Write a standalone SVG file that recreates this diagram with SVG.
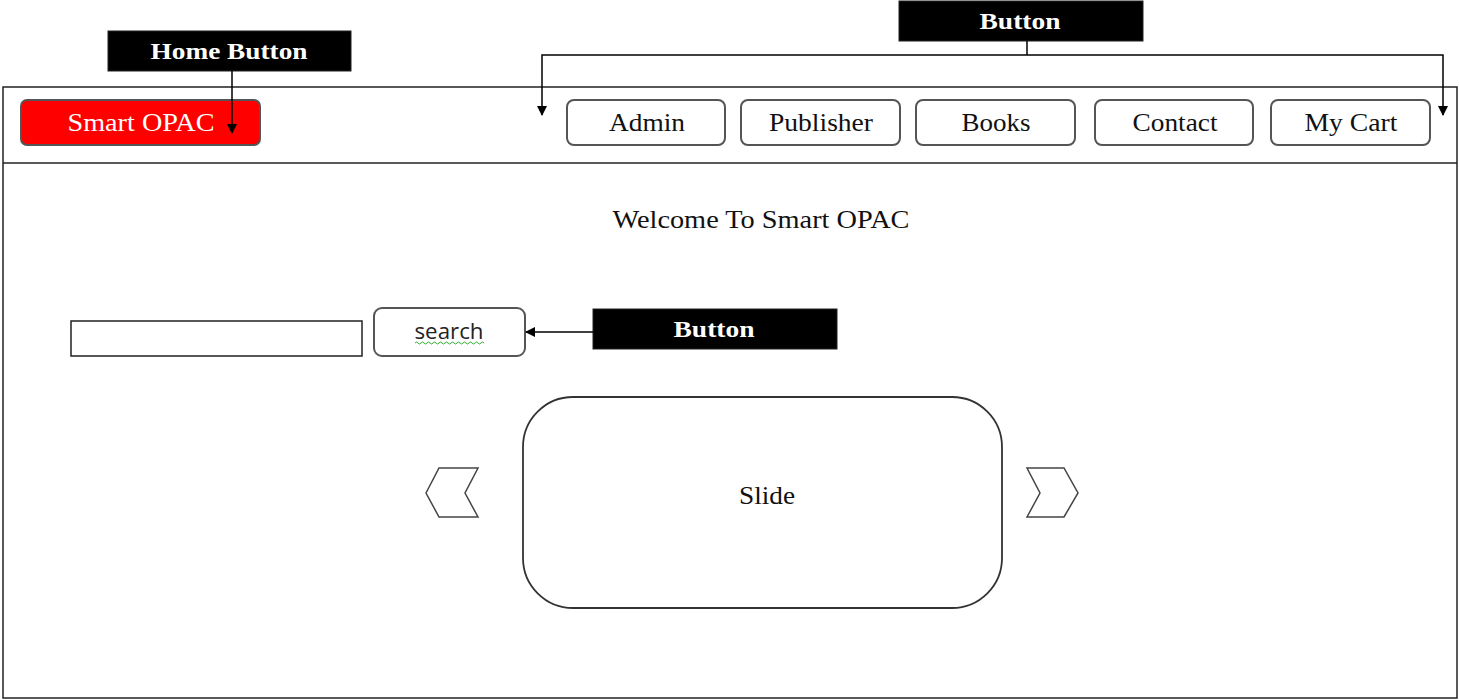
<svg xmlns="http://www.w3.org/2000/svg" width="1459" height="700" viewBox="0 0 1459 700">
<defs>
<style>
.frame{fill:#fff;stroke:#222;stroke-width:1.5}
.btn{fill:#fff;stroke:#555;stroke-width:2}
.lbl{fill:#000;stroke:#222;stroke-width:1}
.lt{font-family:"Liberation Serif","Times New Roman",serif;font-weight:bold;font-size:24px;fill:#fff;text-anchor:middle}
.bt{font-family:"Liberation Serif","Times New Roman",serif;font-size:25px;fill:#111;text-anchor:middle}
.con{fill:none;stroke:#000;stroke-width:1.5}
</style>
<marker id="ah" markerWidth="10" markerHeight="10" viewBox="0 0 10 10" refX="9" refY="5" orient="auto" markerUnits="userSpaceOnUse">
<path d="M0,0 L10,5 L0,10 z" fill="#000"/>
</marker>
</defs>
<rect width="1459" height="700" fill="#fff"/>
<g id="frame">
<rect class="frame" x="3" y="87" width="1454" height="611"/>
<line x1="3" y1="163" x2="1457" y2="163" stroke="#222" stroke-width="1.5"/>
</g>
<g id="home-button">
<rect x="21" y="100" width="239" height="45" rx="6" fill="#f00" stroke="#555" stroke-width="2"/>
<text x="141" y="131" font-family="Liberation Serif,serif" font-size="25" fill="#fff" text-anchor="middle" textLength="147" lengthAdjust="spacingAndGlyphs">Smart OPAC</text>
</g>
<g id="nav-admin"><rect class="btn" x="567" y="100" width="158" height="45" rx="7"/><text class="bt" x="647" y="131" textLength="76" lengthAdjust="spacingAndGlyphs">Admin</text></g>
<g id="nav-publisher"><rect class="btn" x="741" y="100" width="159" height="45" rx="7"/><text class="bt" x="821" y="131" textLength="104" lengthAdjust="spacingAndGlyphs">Publisher</text></g>
<g id="nav-books"><rect class="btn" x="916" y="100" width="159" height="45" rx="7"/><text class="bt" x="996" y="131" textLength="69" lengthAdjust="spacingAndGlyphs">Books</text></g>
<g id="nav-contact"><rect class="btn" x="1095" y="100" width="158" height="45" rx="7"/><text class="bt" x="1175" y="131" textLength="85" lengthAdjust="spacingAndGlyphs">Contact</text></g>
<g id="nav-mycart"><rect class="btn" x="1271" y="100" width="159" height="45" rx="7"/><text class="bt" x="1351" y="131" textLength="93" lengthAdjust="spacingAndGlyphs">My Cart</text></g>
<g id="welcome"><text class="bt" x="761" y="228" textLength="297" lengthAdjust="spacingAndGlyphs">Welcome To Smart OPAC</text></g>
<g id="search-input"><rect x="71" y="321" width="291" height="35" fill="#fff" stroke="#222" stroke-width="1.5"/></g>
<g id="search-button">
<rect class="btn" x="374" y="308" width="151" height="48" rx="8"/>
<text x="449" y="339" font-family="Open Sans,Liberation Sans,sans-serif" font-size="21" fill="#222" text-anchor="middle" textLength="69" lengthAdjust="spacingAndGlyphs">search</text>
<path d="M415,343 q1.5,-2 3,0 t3,0 t3,0 t3,0 t3,0 t3,0 t3,0 t3,0 t3,0 t3,0 t3,0 t3,0 t3,0 t3,0 t3,0 t3,0 t3,0 t3,0 t3,0 t3,0 t3,0 t3,0 t3,0" fill="none" stroke="#3a3" stroke-width="1"/>
</g>
<g id="slide">
<rect x="523" y="397" width="479" height="211" rx="50" fill="#fff" stroke="#333" stroke-width="1.8"/>
<text class="bt" x="767" y="504" textLength="56" lengthAdjust="spacingAndGlyphs">Slide</text>
</g>
<g id="prev-arrow"><polygon points="426,493 439,468 478,468 465,493 478,517 439,517" fill="#fff" stroke="#444" stroke-width="1.5"/></g>
<g id="next-arrow"><polygon points="1027,468 1064,468 1078,493 1064,517 1027,517 1040,493" fill="#fff" stroke="#444" stroke-width="1.5"/></g>
<g id="label-home">
<rect class="lbl" x="108" y="31" width="243" height="40"/>
<text class="lt" x="229" y="59" textLength="157" lengthAdjust="spacingAndGlyphs">Home Button</text>
</g>
<g id="label-nav">
<rect class="lbl" x="899" y="1" width="244" height="40"/>
<text class="lt" x="1020" y="29" textLength="81" lengthAdjust="spacingAndGlyphs">Button</text>
</g>
<g id="label-search">
<rect class="lbl" x="593" y="309" width="244" height="40"/>
<text class="lt" x="714" y="337" textLength="81" lengthAdjust="spacingAndGlyphs">Button</text>
</g>
<g id="connectors">
<line class="con" x1="232" y1="71" x2="232" y2="133" marker-end="url(#ah)"/>
<polyline class="con" points="1027,41 1027,55"/>
<polyline class="con" points="1027,55 542,55 542,115" marker-end="url(#ah)"/>
<polyline class="con" points="1027,55 1443,55 1443,115" marker-end="url(#ah)"/>
<line class="con" x1="593" y1="332" x2="526" y2="332" marker-end="url(#ah)"/>
</g>
</svg>
